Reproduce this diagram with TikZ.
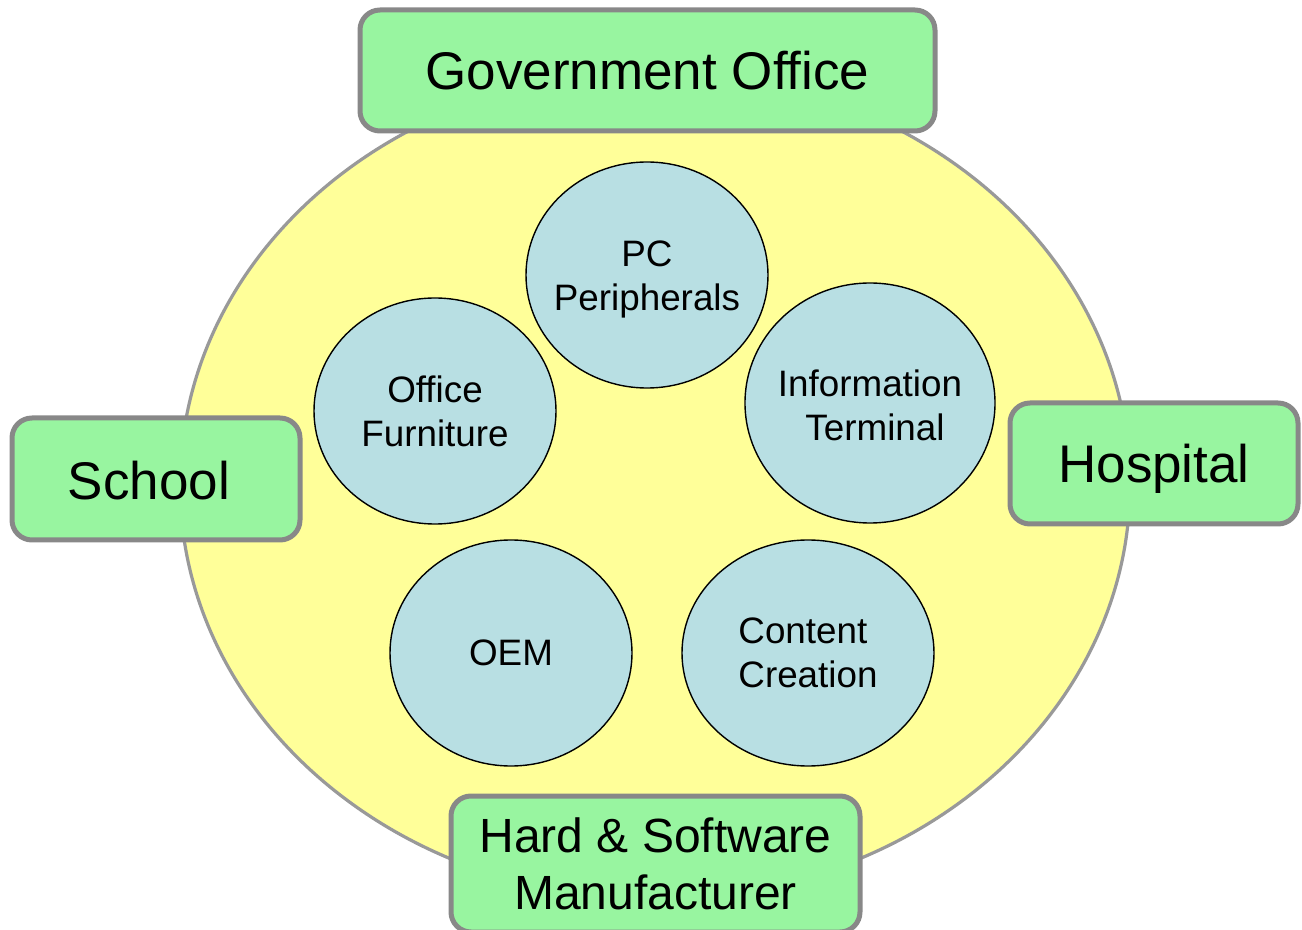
\documentclass[tikz,border=0pt]{standalone}
\usepackage{fontspec}
\setmainfont{Liberation Sans}
\usetikzlibrary{shapes.geometric}
\definecolor{boxgreen}{RGB}{152,245,160}
\definecolor{boxgray}{RGB}{136,136,136}
\definecolor{ringyellow}{RGB}{255,255,153}
\definecolor{ringgray}{RGB}{153,153,153}
\definecolor{circblue}{RGB}{184,223,227}
\tikzset{
  place/.style={draw=boxgray, line width=2.5pt, fill=boxgreen, rounded corners=10pt,
    inner sep=0pt, align=center, font=\fontsize{26.5}{29}\selectfont},
  area/.style={draw=black, line width=0.7pt, fill=circblue, ellipse, inner sep=0pt},
  arealabel/.style={inner sep=0pt, align=center, font=\fontsize{18.4}{22}\selectfont},
  ring/.style={draw=ringgray, line width=1.6pt, fill=ringyellow, ellipse, inner sep=0pt}
}
\begin{document}
\begin{tikzpicture}[x=0.5pt,y=-0.5pt]
\useasboundingbox (0,0) rectangle (1302,930);
\node[ring, minimum width=475pt, minimum height=414pt] (ring) at (655,485) {};
% boxes
\node[place, minimum width=287.5pt, minimum height=60.5pt] (gov) at (647.5,70.5) {Government Office};
\node[place, minimum width=144pt, minimum height=61pt] (school) at (156,479) {\raisebox{-1pt}[\height][\depth]{School}\hspace*{7pt}};
\node[place, minimum width=144pt, minimum height=60.5pt] (hosp) at (1154,463.5) {\raisebox{-2.5pt}[\height][\depth]{Hospital}};
\node[place, minimum width=204.5pt, minimum height=68pt, font=\fontsize{24}{28.5}\selectfont] (hard) at (655.5,864) {Hard \& Software\\Manufacturer};
% circles
\node[area, minimum width=121pt, minimum height=113pt] (pc) at (647,275) {};
\node[area, minimum width=121pt, minimum height=113pt] (furn) at (435,411) {};
\node[area, minimum width=125pt, minimum height=120pt] (info) at (870,403) {};
\node[area, minimum width=121pt, minimum height=113pt] (oem) at (511,653) {};
\node[area, minimum width=126pt, minimum height=113pt] (cont) at (808,653) {};
\node[arealabel] (pcl) at ([yshift=-2pt]pc.center) {PC\\Peripherals};
\node[arealabel] (furnl) at (furn.center) {Office\\Furniture};
\node[arealabel] (infol) at ([yshift=-1pt]info.center) {Information\\\hspace*{5pt}Terminal};
\node[arealabel] (oeml) at (oem.center) {OEM};
\node[arealabel, align=left] (contl) at (cont.center) {Content\\Creation};
\end{tikzpicture}
\end{document}
